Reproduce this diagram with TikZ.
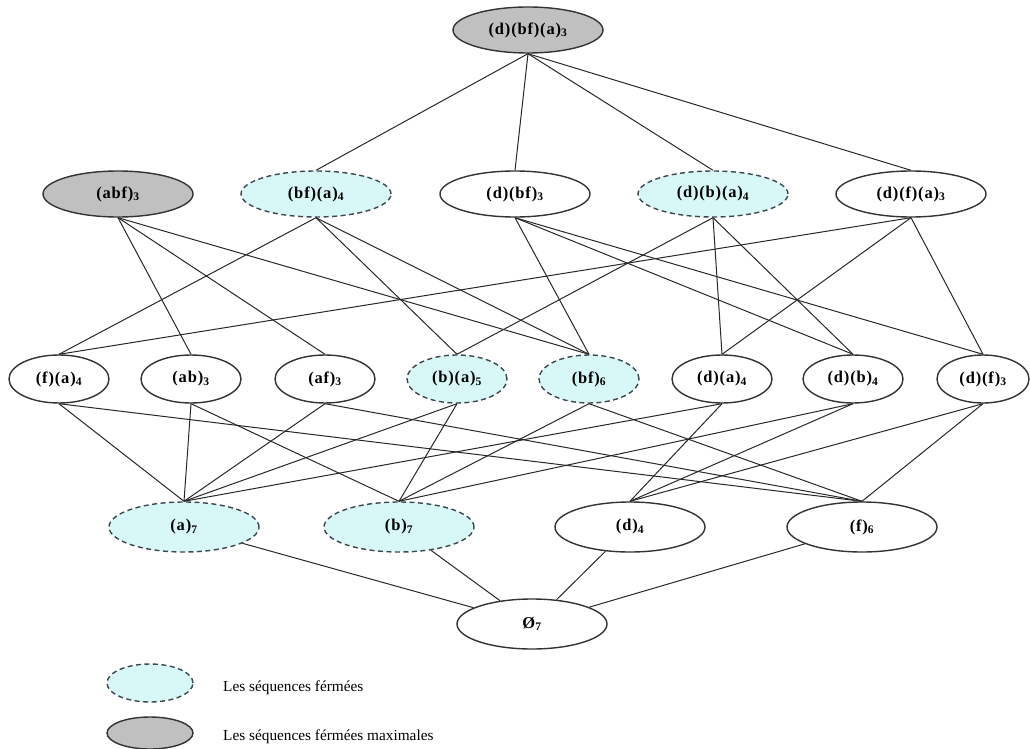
\documentclass[tikz,border=0pt]{standalone}
\usepackage{fontspec}
\setmainfont{Liberation Serif}
\newfontfamily\lblfont[LetterSpace=5]{Liberation Serif}
\usetikzlibrary{shapes.geometric}
\definecolor{closedfill}{RGB}{216,248,248}
\definecolor{maxfill}{RGB}{192,192,192}
\definecolor{edgecol}{RGB}{40,40,40}
\definecolor{dashcol}{RGB}{60,70,80}
\begin{document}
\begin{tikzpicture}[x=1pt,y=-1pt,
  seq/.style={ellipse, draw=black!80, line width=1.4pt, fill=white, inner sep=0pt,
    font=\lblfont\bfseries\fontsize{16.5}{18}\selectfont},
  big/.style={seq, minimum width=150pt, minimum height=46pt},
  small/.style={seq, minimum width=100pt, minimum height=48pt},
  closed/.style={fill=closedfill, draw=dashcol, dash pattern=on 5pt off 3.5pt},
  maximal/.style={fill=maxfill},
  link/.style={draw=edgecol, line width=1pt},
  legtext/.style={anchor=west, inner sep=0pt, font=\fontsize{15.3}{17}\selectfont}]
\useasboundingbox (0,0) rectangle (1030,749);
% top
\node[big, maximal] (top) at (528,30) {(d)(bf)(a)\textsubscript{3}};
% row 2
\node[big, maximal] (abf) at (118,194) {(abf)\textsubscript{3}};
\node[big, closed] (bfa) at (316,194) {(bf)(a)\textsubscript{4}};
\node[big] (dbf) at (515,194) {(d)(bf)\textsubscript{3}};
\node[big, closed] (dba) at (713,194) {(d)(b)(a)\textsubscript{4}};
\node[big] (dfa) at (911,194) {(d)(f)(a)\textsubscript{3}};
% row 3
\node[small] (fa) at (59,379) {(f)(a)\textsubscript{4}};
\node[small] (ab) at (191,379) {(ab)\textsubscript{3}};
\node[small] (af) at (325,379) {(af)\textsubscript{3}};
\node[small, closed] (ba) at (457,379) {(b)(a)\textsubscript{5}};
\node[small, closed] (bf) at (589,379) {(bf)\textsubscript{6}};
\node[small] (da) at (722,379) {(d)(a)\textsubscript{4}};
\node[small] (db) at (853,379) {(d)(b)\textsubscript{4}};
\node[small, minimum width=92pt] (df) at (983,379) {(d)(f)\textsubscript{3}};
% row 4
\node[big, minimum height=50pt, closed] (a) at (184,527) {(a)\textsubscript{7}};
\node[big, minimum height=50pt, closed] (b) at (399,527) {(b)\textsubscript{7}};
\node[big, minimum height=50pt] (d) at (630,527) {(d)\textsubscript{4}};
\node[big, minimum height=50pt] (f) at (862,527) {(f)\textsubscript{6}};
% bottom
\node[big, minimum height=50pt] (empty) at (532,624) {Ø\textsubscript{7}};
% edges top -> row 2
\foreach \n in {bfa,dbf,dba,dfa} \draw[link] (top.south) -- (\n.north);
% row 2 -> row 3
\foreach \u/\l in {abf/ab, abf/af, abf/bf, bfa/fa, bfa/ba, bfa/bf, dbf/bf, dbf/db, dbf/df,
  dba/ba, dba/da, dba/db, dfa/fa, dfa/da, dfa/df}
  \draw[link] (\u.south) -- (\l.north);
% row 3 -> row 4
\foreach \u/\l in {fa/a, fa/f, ab/a, ab/b, af/a, af/f, ba/a, ba/b, bf/b, bf/f,
  da/a, da/d, db/b, db/d, df/d, df/f}
  \draw[link] (\u.south) -- (\l.north);
% row 4 -> bottom
\foreach \u in {a,b,d,f} \draw[link] (\u) -- (empty);
% legend
\node[seq, closed, minimum width=86pt, minimum height=38pt] (leg1) at (150,683) {};
\node[legtext] (legt1) at (223,688) {Les séquences férmées};
\node[seq, maximal, minimum width=86pt, minimum height=32pt] (leg2) at (150,733) {};
\node[legtext] (legt2) at (223,737) {Les séquences férmées maximales};
\end{tikzpicture}
\end{document}
